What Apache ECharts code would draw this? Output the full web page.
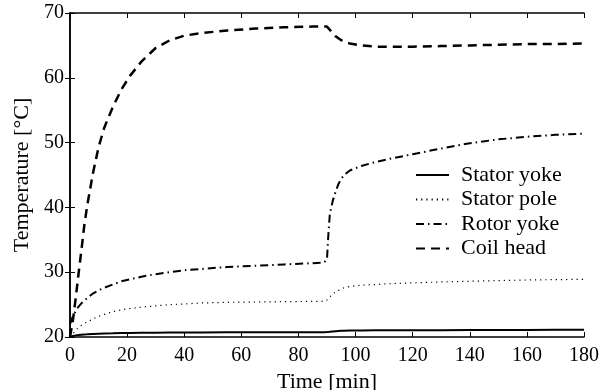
<!DOCTYPE html>
<html>
<head>
<meta charset="utf-8">
<script src="https://cdn.jsdelivr.net/npm/echarts@6/dist/echarts.min.js"></script>
<style>
	html, body { margin: 0; padding: 0; background: #fff; }
	#chart { width: 611px; height: 390px; }
</style>
</head>
<body>
<div id="chart"></div>
<script>
// time samples [min]
const times = [0, 1, 2, 3, 4, 5, 6, 8, 10, 12, 15, 18, 21, 25, 30, 35, 40, 46, 55, 65, 75, 85, 89, 90, 90.5, 91, 92, 93, 94, 95, 96, 98, 102, 107, 113, 120, 130, 140, 150, 160, 170, 180]

// temperatures [°C]
const statorYoke = [20.0, 20.15, 20.25, 20.3, 20.35, 20.4, 20.42, 20.47, 20.5, 20.53, 20.56, 20.6, 20.62, 20.64, 20.66, 20.68, 20.7, 20.71, 20.72, 20.73, 20.74, 20.75, 20.75, 20.76, 20.78, 20.8, 20.86, 20.9, 20.93, 20.95, 20.97, 21.0, 21.02, 21.03, 21.04, 21.05, 21.06, 21.07, 21.08, 21.09, 21.1, 21.1]
const statorPole = [20.0, 20.5, 21.0, 21.5, 21.8, 22.1, 22.3, 22.8, 23.2, 23.5, 23.9, 24.2, 24.4, 24.6, 24.8, 25.0, 25.1, 25.25, 25.35, 25.4, 25.45, 25.5, 25.5, 25.7, 25.9, 26.2, 26.6, 27.0, 27.2, 27.4, 27.6, 27.8, 28.0, 28.1, 28.25, 28.35, 28.5, 28.6, 28.7, 28.8, 28.85, 28.9]
const rotorYoke = [22.0, 23.2, 24.0, 24.7, 25.2, 25.6, 26.0, 26.7, 27.2, 27.6, 28.1, 28.6, 28.9, 29.3, 29.7, 30.0, 30.3, 30.5, 30.8, 31.0, 31.2, 31.4, 31.5, 32.0, 36.0, 39.0, 41.0, 42.4, 43.6, 44.4, 45.0, 45.7, 46.4, 47.0, 47.6, 48.2, 49.1, 49.9, 50.5, 50.9, 51.2, 51.4]
const coilHead = [20.0, 22.5, 26.0, 29.8, 33.4, 37.2, 40.2, 45.2, 49.3, 52.3, 55.5, 58.2, 60.3, 62.5, 64.6, 65.8, 66.5, 66.9, 67.3, 67.6, 67.8, 67.9, 67.9, 67.9, 67.7, 67.4, 66.9, 66.4, 66.1, 65.8, 65.6, 65.3, 65.0, 64.8, 64.8, 64.8, 64.9, 65.0, 65.1, 65.2, 65.2, 65.3]

const seriesNames = ['Stator yoke', 'Stator pole', 'Rotor yoke', 'Coil head']

const fontFamily = '"Liberation Serif", "DejaVu Serif", serif'

const chart = echarts.init(document.getElementById('chart'), null, { renderer: 'canvas' })

const pairs = (vals) => times.map((t, i) => [t, vals[i]])

const makeSeries = (name, vals, width, type) => ({
	name,
	type: 'line',
	symbol: 'none',
	showSymbol: false,
	animation: false,
	xAxisIndex: 0,
	yAxisIndex: 0,
	itemStyle: { color: '#000' },
	lineStyle: { color: '#000', width, type },
	data: pairs(vals)
})

const frameAxis = {
	axisLine: { show: true, lineStyle: { color: '#000', width: 1.5 } },
	axisTick: { show: true, inside: true, length: 5, lineStyle: { color: '#000', width: 1 } },
	splitLine: { show: false }
}

const option = {
	animation: false,
	grid: { left: 70, right: 27, top: 13, bottom: 53, outerBoundsMode: 'none', containLabel: false },
	legend: {
		orient: 'vertical',
		left: 410,
		top: 159,
		itemWidth: 33,
		itemHeight: 14,
		itemGap: 2.5,
		itemStyle: { opacity: 0 },
		textStyle: { fontFamily, fontSize: 22, color: '#000', padding: [0, 0, 0, 7] },
		data: seriesNames
	},
	xAxis: [
		{
			type: 'value',
			min: 0,
			max: 180,
			interval: 20,
			position: 'bottom',
			name: 'Time [min]',
			nameLocation: 'middle',
			nameGap: 31,
			nameTextStyle: { fontFamily, fontSize: 22, color: '#000' },
			axisLabel: { fontFamily, fontSize: 20, color: '#000', margin: 9 },
			...frameAxis
		},
		{
			type: 'value',
			min: 0,
			max: 180,
			interval: 20,
			position: 'top',
			axisLabel: { show: false },
			...frameAxis
		}
	],
	yAxis: [
		{
			type: 'value',
			min: 20,
			max: 70,
			interval: 10,
			position: 'left',
			name: 'Temperature [°C]',
			nameLocation: 'middle',
			nameGap: 37,
			nameTextStyle: { fontFamily, fontSize: 22, color: '#000' },
			axisLabel: { fontFamily, fontSize: 20, color: '#000', margin: 6 },
			...frameAxis
		},
		{
			type: 'value',
			min: 20,
			max: 70,
			interval: 10,
			position: 'right',
			axisLabel: { show: false },
			...frameAxis
		}
	],
	series: [
		makeSeries('Stator yoke', statorYoke, 2, 'solid'),
		makeSeries('Stator pole', statorPole, 1.2, [1.2, 4]),
		makeSeries('Rotor yoke', rotorYoke, 2, [8, 4, 1.5, 4]),
		makeSeries('Coil head', coilHead, 2.5, [9, 6])
	]
}

chart.setOption(option)
</script>
</body>
</html>
